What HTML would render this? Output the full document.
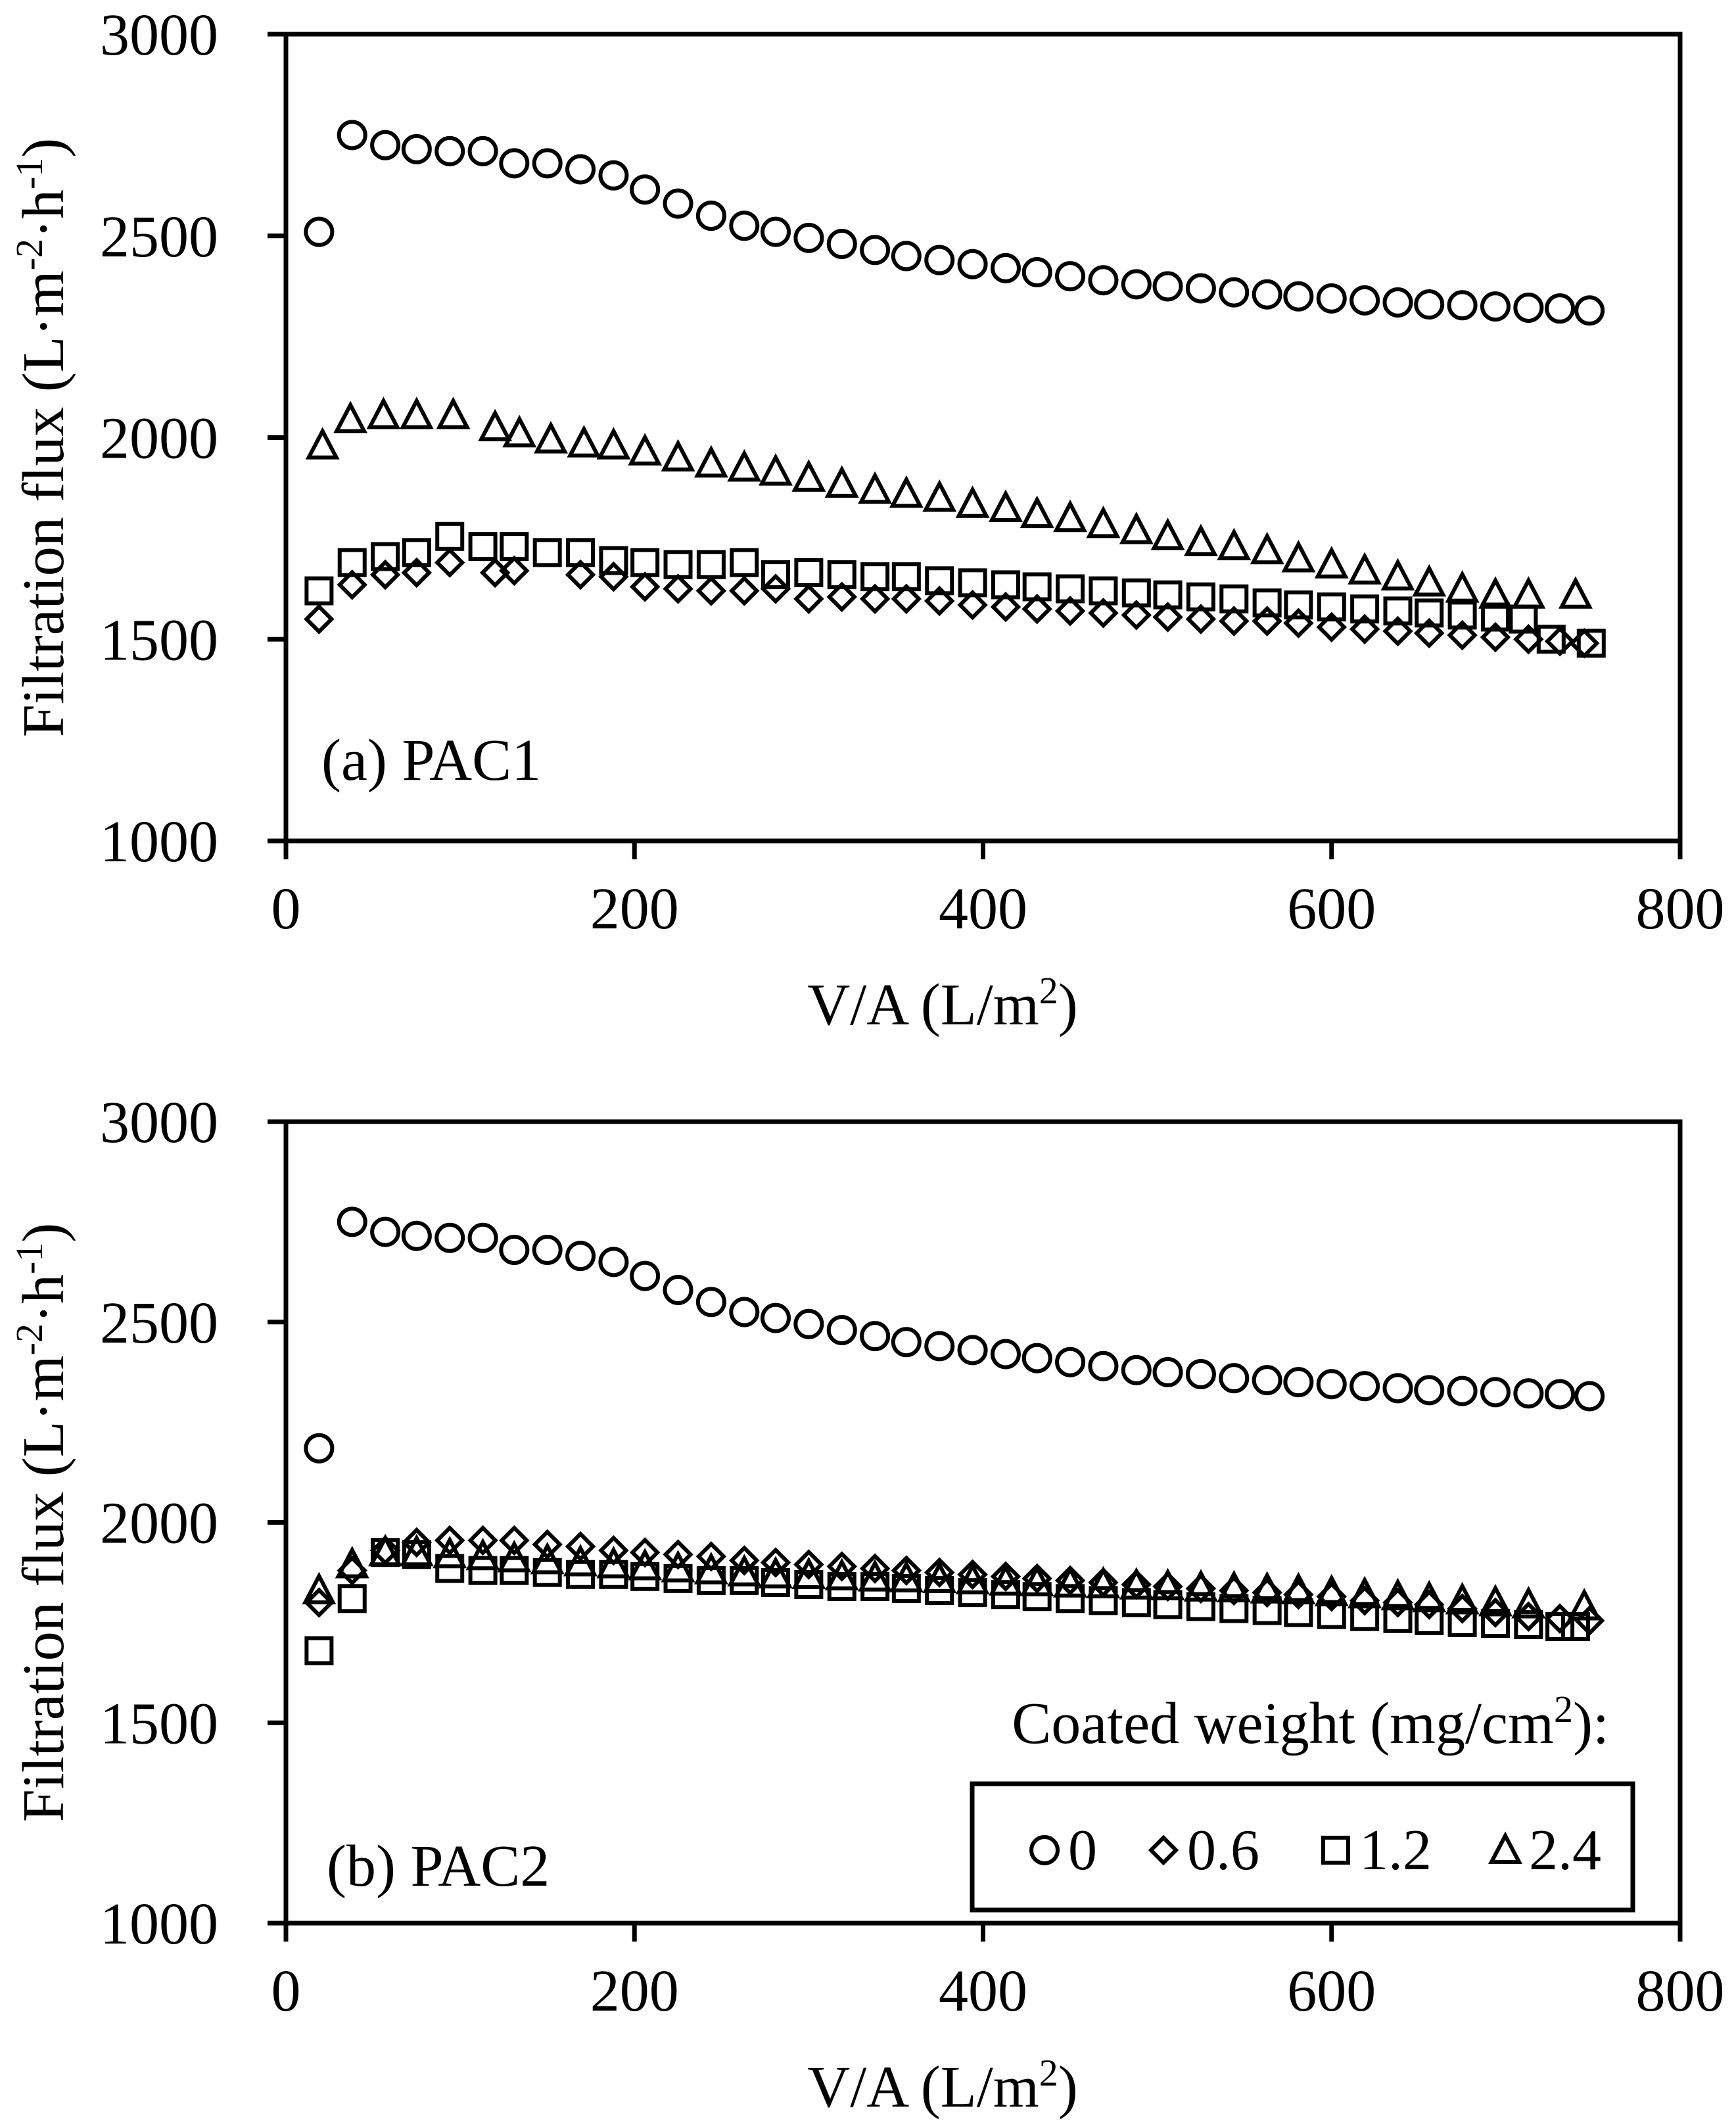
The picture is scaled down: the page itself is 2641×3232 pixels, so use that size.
<!DOCTYPE html>
<html><head><meta charset="utf-8"><style>
html,body{margin:0;padding:0;background:#fff;}
svg text{font-family:"Liberation Serif","Times New Roman",serif;fill:#000;}
</style></head><body>
<svg id="chart" width="2641" height="3227" viewBox="0 0 2641 3227" xmlns="http://www.w3.org/2000/svg"></svg>
<script>
const xTicks=[0,200,400,600,800];
const yTicks=[1000,1500,2000,2500,3000];
const xCommon=[19,38,57,75,94,113,131,150,169,188,206,225,244,263,281,300,319,338,356,375,394,413,431,450,469,488,506,525,544,563,581,600,619,638,656,675,694,713,731,748];
const xTriA=[21,37,56,75,96,120,134,152,171,188,206,225,244,263,281,300,319,338,356,375,394,413,431,450,469,488,506,525,544,563,581,600,619,638,656,675,694,713,740];
const xSqA=[19,38,57,75,94,113,131,150,169,188,206,225,244,263,281,300,319,338,356,375,394,413,431,450,469,488,506,525,544,563,581,600,619,638,656,675,694,710,726,749];
const xDiaA=[19,38,57,75,94,120,131,169,188,206,225,244,263,281,300,319,338,356,375,394,413,431,450,469,488,506,525,544,563,581,600,619,638,656,675,694,713,731,745];
const circA=[2510,2750,2725,2715,2710,2710,2680,2680,2665,2650,2615,2580,2550,2525,2510,2495,2480,2465,2450,2440,2430,2420,2410,2400,2390,2380,2375,2370,2360,2355,2350,2345,2340,2335,2330,2328,2325,2322,2320,2315];
const triA=[1980,2045,2055,2055,2055,2025,2010,1995,1985,1980,1965,1950,1935,1925,1915,1900,1885,1870,1860,1850,1835,1825,1810,1800,1785,1770,1755,1740,1730,1720,1700,1685,1670,1655,1640,1625,1610,1610,1610];
const sqA=[1620,1690,1705,1715,1755,1730,1730,1715,1715,1695,1690,1685,1685,1690,1660,1665,1660,1655,1655,1645,1640,1635,1630,1625,1620,1615,1610,1605,1600,1590,1585,1580,1575,1570,1565,1560,1555,1550,1500,1490];
const diaA=[1550,1635,1660,1665,1690,1665,1670,1660,1655,1630,1625,1620,1620,1625,1600,1605,1600,1600,1595,1585,1580,1575,1570,1565,1560,1555,1550,1545,1545,1540,1530,1525,1520,1515,1510,1505,1500,1495,1490];
const circB=[2185,2750,2725,2715,2710,2710,2680,2680,2665,2650,2615,2580,2550,2525,2510,2495,2480,2465,2450,2440,2430,2420,2410,2400,2390,2380,2375,2370,2360,2355,2350,2345,2340,2335,2330,2328,2325,2322,2320,2315];
const diaB=[1800,1880,1930,1950,1955,1955,1955,1945,1940,1930,1925,1920,1915,1905,1900,1895,1890,1885,1880,1875,1870,1865,1860,1855,1850,1845,1840,1835,1830,1825,1820,1815,1805,1800,1795,1785,1775,1765,1760,1755];
const triB=[1830,1895,1925,1925,1920,1915,1910,1905,1900,1895,1890,1885,1880,1875,1870,1868,1865,1862,1860,1858,1855,1852,1850,1847,1845,1842,1840,1837,1835,1832,1830,1825,1820,1815,1810,1805,1800,1795,1790];
const sqB=[1680,1810,1925,1920,1885,1880,1880,1875,1870,1870,1865,1860,1855,1855,1850,1845,1840,1840,1835,1830,1825,1820,1815,1810,1805,1800,1795,1790,1785,1780,1775,1770,1765,1760,1755,1750,1748,1745,1740,1740];
const xTriB=[19,38,57,75,94,113,131,150,169,188,206,225,244,263,281,300,319,338,356,375,394,413,431,450,469,488,506,525,544,563,581,600,619,638,656,675,694,713,745];
const xSqB=[19,38,57,75,94,113,131,150,169,188,206,225,244,263,281,300,319,338,356,375,394,413,431,450,469,488,506,525,544,563,581,600,619,638,656,675,694,713,731,740];

const NS='http://www.w3.org/2000/svg';
const svg=document.getElementById('chart');
function el(t,a,p){const e=document.createElementNS(NS,t);for(const k in a)e.setAttribute(k,a[k]);(p||svg).appendChild(e);return e;}
const L=435,R=2556,SW=6;
function marker(g,type,cx,cy){
  let e;
  if(type==='circle')e=el('circle',{cx:cx,cy:cy,r:20,fill:'none',stroke:'#000','stroke-width':SW},g);
  else if(type==='square')e=el('rect',{x:cx-19,y:cy-19,width:38,height:38,fill:'none',stroke:'#000','stroke-width':SW},g);
  else if(type==='diamond')e=el('polygon',{points:`${cx},${cy-19} ${cx+19},${cy} ${cx},${cy+19} ${cx-19},${cy}`,fill:'none',stroke:'#000','stroke-width':SW},g);
  else e=el('polygon',{points:`${cx},${cy-22} ${cx+21},${cy+18} ${cx-21},${cy+18}`,fill:'none',stroke:'#000','stroke-width':SW,'stroke-linejoin':'miter'},g);
  return e;
}
function panel(id,T,B,label,labelX,labelY,series){
  const g=el('g',{});
  
  
  const sx=v=>L+(v-0)/800*(R-L);
  const sy=v=>B-(v-1000)/2000*(B-T);
  const box=el('rect',{x:L,y:T,width:R-L,height:B-T,fill:'none',stroke:'#000','stroke-width':7},g);
  
  
  yTicks.forEach(v=>{
    const y=sy(v);
    const t=el('line',{x1:L-28,x2:L,y1:y,y2:y,stroke:'#000','stroke-width':7},g);
    
    
    const tx=el('text',{x:332,y:y+31,'font-size':90,'text-anchor':'end'},g);tx.textContent=v;
    
    
  });
  xTicks.forEach(v=>{
    const x=sx(v);
    const t=el('line',{x1:x,x2:x,y1:B,y2:B+28,stroke:'#000','stroke-width':7},g);
    
    
    const tx=el('text',{x:x,y:B+133,'font-size':90,'text-anchor':'middle'},g);tx.textContent=v;
    
    
  });
  const xt=el('text',{x:1434,y:B+279,'font-size':90,'text-anchor':'middle'},g);
  xt.innerHTML='V/A (L/m<tspan dy="-32" font-size="58">2</tspan><tspan dy="32">)</tspan>';
  
  
  const cy=(T+B)/2;
  const yt=el('text',{x:0,y:0,'font-size':90,'text-anchor':'middle',transform:`translate(96,${cy}) rotate(-90)`},g);
  yt.innerHTML='Filtration flux (L·m<tspan dy="-32" font-size="58">-2</tspan><tspan dy="32">·h</tspan><tspan dy="-32" font-size="58">-1</tspan><tspan dy="32">)</tspan>';
  
  
  const pl=el('text',{x:labelX,y:labelY,'font-size':90},g);pl.textContent=label;
  
  
  series.forEach(s=>{
    const sg=el('g',{},g);
    
    
    s.ys.forEach((v,i)=>{
      const m=marker(sg,s.type,sx(s.xs[i]),sy(v));
      
      
    });
  });
}
panel('panel-a-pac1',52,1279,'(a) PAC1',489,1186,[
  {name:'coat-0',type:'circle',xs:xCommon,ys:circA},
  {name:'coat-2-4',type:'triangle',xs:xTriA,ys:triA},
  {name:'coat-1-2',type:'square',xs:xSqA,ys:sqA},
  {name:'coat-0-6',type:'diamond',xs:xDiaA,ys:diaA}
]);
panel('panel-b-pac2',1706,2925,'(b) PAC2',497,2868,[
  {name:'coat-0',type:'circle',xs:xCommon,ys:circB},
  {name:'coat-2-4',type:'triangle',xs:xTriB,ys:triB},
  {name:'coat-0-6',type:'diamond',xs:xCommon,ys:diaB},
  {name:'coat-1-2',type:'square',xs:xSqB,ys:sqB}
]);
const lg=el('g',{});


const lt=el('text',{x:2448,y:2651,'font-size':90,'text-anchor':'end'},lg);
lt.innerHTML='Coated weight (mg/cm<tspan dy="-32" font-size="58">2</tspan><tspan dy="32">):</tspan>';


const lb=el('rect',{x:1479,y:2713,width:1005,height:192,fill:'none',stroke:'#000','stroke-width':7},lg);


[['circle',1589,'0'],['diamond',1770,'0.6'],['square',2032,'1.2'],['triangle',2290,'2.4']].forEach(e=>{
  const m=marker(lg,e[0],e[1],2814);
  
  
  const t=el('text',{x:e[1]+36,y:2843,'font-size':88},lg);t.textContent=e[2];
  
  
});
</script>
</body></html>
